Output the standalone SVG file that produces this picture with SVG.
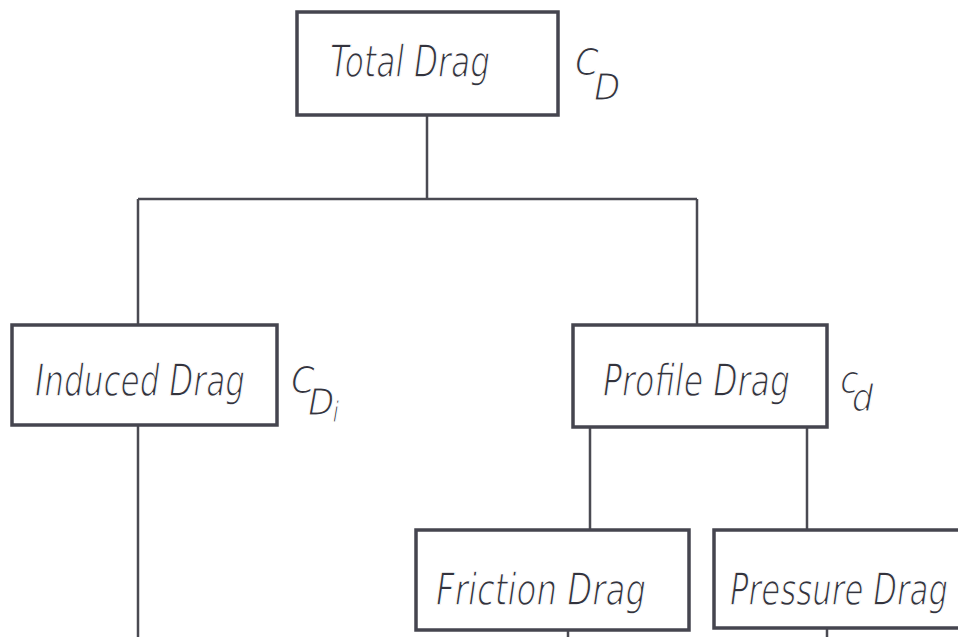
<svg xmlns="http://www.w3.org/2000/svg" width="958" height="637" viewBox="0 0 958 637">
  <style>
    .box { fill: #ffffff; stroke: #45454f; stroke-width: 3.5; }
    .wire { fill: none; stroke: #4a4a52; stroke-width: 2.5; }
    /* thin stencil-like lettering: a white stroke trims the glyph fill */
    .lbl { font-family: "DejaVu Sans Condensed", "DejaVu Sans", sans-serif; font-style: oblique; font-size: 45px; fill: #33333d; stroke: #ffffff; stroke-width: 1.3px; }
    .coef { font-family: "DejaVu Sans Condensed", "DejaVu Sans", sans-serif; font-style: oblique; font-size: 38px; fill: #33333d; stroke: #ffffff; stroke-width: 1.2px; }
  </style>
  <rect width="958" height="637" fill="#ffffff"/>

  <g id="connectors">
    <path class="wire" d="M427 115 V199 M138 199 H697 M138 199 V325 M697 199 V325"/>
    <path class="wire" d="M138 425 V637"/>
    <path class="wire" d="M590 427 V530 M807 427 V530"/>
    <path class="wire" d="M568 630 V637 M827 628 V637"/>
  </g>

  <g id="total-drag">
    <rect class="box" x="297" y="12" width="261" height="103"/>
    <text class="lbl" x="330" y="77" textLength="160" lengthAdjust="spacingAndGlyphs">Total Drag</text>
    <text class="coef" x="575" y="75">C<tspan dx="-5" dy="25">D</tspan></text>
  </g>

  <g id="induced-drag">
    <rect class="box" x="12" y="325" width="265" height="100"/>
    <text class="lbl" x="35" y="396" textLength="210" lengthAdjust="spacingAndGlyphs">Induced Drag</text>
    <text class="coef" x="291" y="393">C<tspan dx="-7" dy="22">D</tspan><tspan dx="-2" dy="7" font-size="28">i</tspan></text>
  </g>

  <g id="profile-drag">
    <rect class="box" x="573" y="325" width="254" height="102"/>
    <text class="lbl" x="603" y="396" textLength="187" lengthAdjust="spacingAndGlyphs">Profile Drag</text>
    <text class="coef" x="840" y="393">c<tspan dx="-7" dy="18">d</tspan></text>
  </g>

  <g id="friction-drag">
    <rect class="box" x="416" y="530" width="273" height="100"/>
    <text class="lbl" x="436" y="605" textLength="210" lengthAdjust="spacingAndGlyphs">Friction Drag</text>
  </g>

  <g id="pressure-drag">
    <rect class="box" x="714" y="530" width="260" height="98"/>
    <text class="lbl" x="730" y="605" textLength="218" lengthAdjust="spacingAndGlyphs">Pressure Drag</text>
  </g>
</svg>
